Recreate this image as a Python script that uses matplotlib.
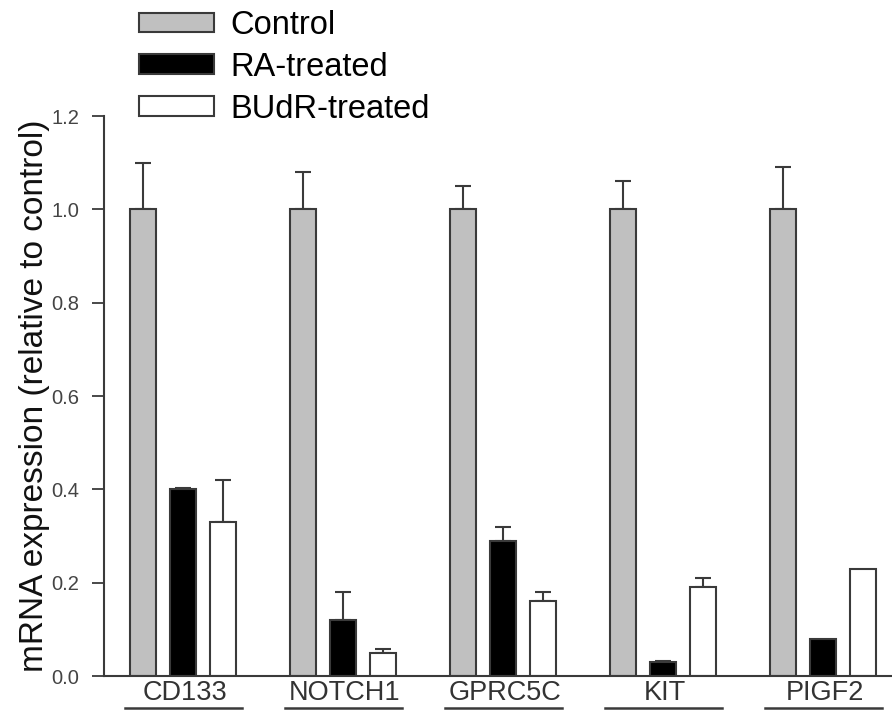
import numpy as np
import matplotlib
matplotlib.use("Agg")
from matplotlib import pyplot as plt

plt.rcParams['font.family'] = ['Liberation Sans', 'DejaVu Sans']

# data
genes = ["CD133", "NOTCH1", "GPRC5C", "KIT", "PIGF2"]
series = ["Control", "RA-treated", "BUdR-treated"]
control = [1.0, 1.0, 1.0, 1.0, 1.0]
control_err = [0.10, 0.08, 0.05, 0.06, 0.09]
ra = [0.40, 0.12, 0.29, 0.03, 0.08]
ra_err = [0.003, 0.06, 0.03, 0.003, 0.0]
budr = [0.33, 0.05, 0.16, 0.19, 0.23]
budr_err = [0.09, 0.007, 0.02, 0.02, 0.0]

colors = ["#c0c0c0", "#000000", "#ffffff"]
edge = "#3a3a3a"

fig = plt.figure(figsize=(8.92, 7.13), dpi=100)
ax = fig.add_axes([104 / 892, 37 / 713, 788 / 892, 560 / 713])

x = np.arange(len(genes))
width = 0.1625
offsets = [-0.25, 0.0, 0.25]

for vals, errs, col, off, name in zip([control, ra, budr], [control_err, ra_err, budr_err],
                                      colors, offsets, series):
    ax.bar(x + off, vals, width, color=col, edgecolor=edge, linewidth=1.5, label=name, zorder=2)
    for xi, v, e in zip(x + off, vals, errs):
        if e > 0:
            ax.errorbar(xi, v, yerr=[[0], [e]], fmt="none", ecolor=edge, elinewidth=1.5,
                        capsize=5.5, capthick=1.5, zorder=1)

ax.set_xlim(-0.494, 4.431)
ax.set_ylim(0, 1.2)
ax.set_yticks(np.arange(0, 1.21, 0.2))
ax.set_yticklabels([f"{t:.1f}" for t in np.arange(0, 1.21, 0.2)], fontsize=14.5, color="#444444")
ax.tick_params(axis="y", direction="out", length=9, width=1.3, color=edge, pad=9)
ax.set_xticks([])
for s in ["top", "right"]:
    ax.spines[s].set_visible(False)
for s in ["left", "bottom"]:
    ax.spines[s].set_color(edge)
    ax.spines[s].set_linewidth(1.5)

ax.set_ylabel("mRNA expression (relative to control)", fontsize=24, color="#111111")
ax.yaxis.set_label_coords(-0.068, 0.5)

# group labels with underline
trans = ax.get_xaxis_transform()
for xi, g in zip(x, genes):
    ax.text(xi + 0.01, -0.031, g, transform=trans, ha="center", va="center",
            fontsize=19.5, color="#333333")
    ax.plot([xi - 0.36, xi + 0.37], [-0.057, -0.057], transform=trans, color=edge,
            lw=1.8, clip_on=False)

ax.legend(loc="upper left", bbox_to_anchor=(139 / 892, 1 - 10 / 713),
          bbox_transform=fig.transFigure, frameon=False, fontsize=23.5,
          handlelength=2.3, handleheight=0.55, handletextpad=0.5,
          labelspacing=0.33, borderpad=0, borderaxespad=0)

fig.savefig("out.png", dpi=100)
